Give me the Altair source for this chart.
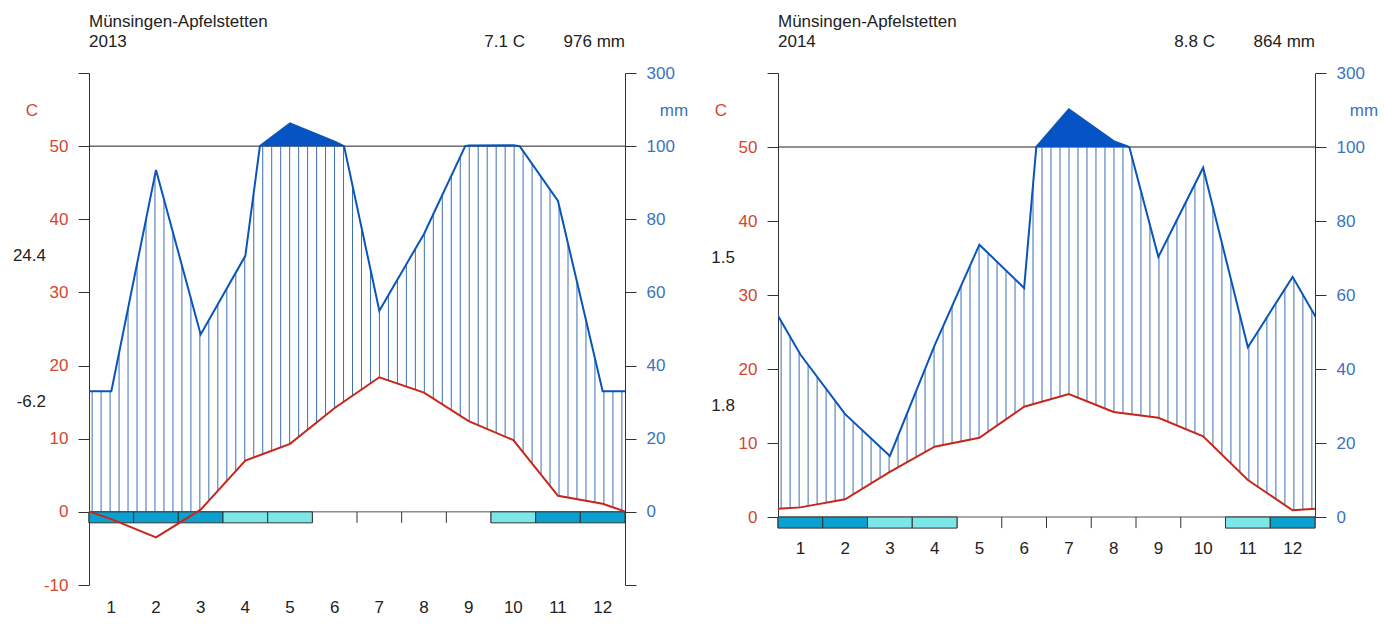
import altair as alt
import numpy as np
import pandas as pd

FONT = "Liberation Sans"
MONTHS = list(range(1, 13))
STATION = "Münsingen-Apfelstetten"

YEAR_2013 = "2013"
TEMP_2013 = [-1.0, -3.5, 0.3, 7.0, 9.3, 14.2, 18.4, 16.3, 12.4, 9.8, 2.2, 1.1]
PREC_2013 = [33, 93.5, 48.5, 70, 162, 112, 55, 76, 102, 102.5, 85, 33]
FROST_2013 = [2, 2, 2, 1, 1, 0, 0, 0, 0, 1, 2, 2]
MEAN_T_2013 = "7.1 C"
SUM_P_2013 = "976 mm"
EXTREMES_2013 = ["24.4", "-6.2"]

YEAR_2014 = "2014"
TEMP_2014 = [1.3, 2.4, 6.1, 9.5, 10.7, 14.9, 16.6, 14.2, 13.4, 10.9, 5.0, 0.9]
PREC_2014 = [43.9, 27.8, 16.5, 46.4, 73.6, 61.9, 202, 116, 70.3, 94.4, 45.9, 64.9]
FROST_2014 = [2, 2, 1, 1, 0, 0, 0, 0, 0, 0, 1, 2]
MEAN_T_2014 = "8.8 C"
SUM_P_2014 = "864 mm"
EXTREMES_2014 = ["1.5", "1.8"]

RED_LINE = "#c8261a"
RED_TXT = "#d4452f"
BLUE_LINE = "#0a55b8"
BLUE_TXT = "#3b73c2"
HATCH = "#3d6fb3"
FILL = "#0553c4"
DARK_BOX = "#0aa0d0"
LIGHT_BOX = "#7de6e6"
AXIS = "#333333"
TXT = "#222222"


def scale_p(p):
    p = np.asarray(p, dtype=float)
    return np.where(p <= 100, p / 2.0, 50 + (p - 100) / 20.0)


def panel(year, temp, prec, frost, mean_t, sum_p, extremes, ymin, height, label_y, width):
    dom = [ymin, 60]
    X = lambda f="x": alt.X(f"{f}:Q", scale=alt.Scale(domain=[0, 12], nice=False, zero=False), axis=None)
    Y = lambda f="y", axis=None: alt.Y(f"{f}:Q", scale=alt.Scale(domain=dom, nice=False, zero=False), axis=axis)

    xs = [-0.5] + [m - 0.5 for m in MONTHS] + [12.5]
    tv = [temp[-1]] + list(temp) + [temp[0]]
    pv = [prec[-1]] + list(prec) + [prec[0]]

    # precipitation path with the 100 mm crossings (scale changes there)
    px, pmm = [xs[0]], [pv[0]]
    for i in range(1, len(xs)):
        a, b = pv[i - 1], pv[i]
        if (a - 100) * (b - 100) < 0:
            f = (100 - a) / (b - a)
            px.append(xs[i - 1] + f * (xs[i] - xs[i - 1]))
            pmm.append(100.0)
        px.append(xs[i])
        pmm.append(b)
    ps = scale_p(pmm)

    df_t = pd.DataFrame({"x": xs, "y": tv})
    df_p = pd.DataFrame({"x": px, "y": ps})
    df_fill = pd.DataFrame({"x": px, "y": np.maximum(ps, 50), "y2": 50.0})

    hx = np.linspace(0.07, 11.93, 60)
    ht = np.interp(hx, xs, tv)
    hp = np.minimum(scale_p(np.interp(hx, px, pmm)), 50)
    lo = np.maximum(ht, 0)
    df_h = pd.DataFrame({"x": hx, "y": lo, "y2": hp})
    df_h = df_h[df_h.y2 > df_h.y]

    df_box = pd.DataFrame({"x": [m - 1 for m in MONTHS], "x2": MONTHS, "y": 0.0, "y2": -1.5, "k": frost})
    df_box = df_box[df_box.k > 0]
    df_tick = pd.DataFrame({"x": list(range(13)), "y": 0.0, "y2": -1.5})
    df_lab = pd.DataFrame({"x": [m - 0.5 for m in MONTHS], "y": label_y, "t": [str(m) for m in MONTHS]})

    ticks = list(range(int(ymin), 61, 10))
    left_axis = alt.Axis(
        orient="left", values=ticks, labelExpr="datum.value == 60 ? '' : '' + datum.value",
        tickSize=11, tickColor=AXIS, domainColor=AXIS, labelColor=RED_TXT, labelFontSize=17,
        labelFont=FONT, labelPadding=10, grid=False, title=None, labelFlush=False,
        labelOverlap=False, labelBound=False)
    right_axis = alt.Axis(
        orient="right", values=ticks,
        labelExpr="datum.value == 60 ? '300' : (datum.value < 0 ? '' : '' + (datum.value * 2))",
        tickSize=11, tickColor=AXIS, domainColor=AXIS, labelColor=BLUE_TXT, labelFontSize=17,
        labelFont=FONT, labelPadding=10, grid=False, title=None, labelFlush=False,
        labelOverlap=False, labelBound=False)

    hl = pd.DataFrame({"y": [0.0], "x": [0.0], "x2": [12.0]})
    hl50 = pd.DataFrame({"y": [50.0], "x": [0.0], "x2": [12.0]})

    zero_line = alt.Chart(hl).mark_rule(color="#555555", strokeWidth=1).encode(
        x=X(), x2="x2:Q", y=Y("y", left_axis))
    line50 = alt.Chart(hl50).mark_rule(color=TXT, strokeWidth=1).encode(
        x=X(), x2="x2:Q", y=Y("y", right_axis))
    hatch = alt.Chart(df_h).mark_rule(color=HATCH, strokeWidth=1).encode(
        x=X(), y=Y(), y2="y2:Q")
    fill = alt.Chart(df_fill).mark_area(color=FILL, clip=True, opacity=1).encode(
        x=X(), y=Y(), y2="y2:Q")
    pline = alt.Chart(df_p).mark_line(color=BLUE_LINE, strokeWidth=2, clip=True).encode(
        x=X(), y=Y(), order="x:Q")
    tline = alt.Chart(df_t).mark_line(color=RED_LINE, strokeWidth=2, clip=True).encode(
        x=X(), y=Y(), order="x:Q")
    tick_marks = alt.Chart(df_tick).mark_rule(color=AXIS, strokeWidth=1).encode(
        x=X(), y=Y(), y2="y2:Q")
    boxes = alt.Chart(df_box).mark_rect(stroke=AXIS, strokeWidth=1).encode(
        x=X(), x2="x2:Q", y=Y(), y2="y2:Q",
        fill=alt.Fill("k:O", scale=alt.Scale(domain=[1, 2], range=[LIGHT_BOX, DARK_BOX]), legend=None))
    mlabels = alt.Chart(df_lab).mark_text(fontSize=17, font=FONT, color=TXT, baseline="middle").encode(
        x=X(), y=Y(), text="t:N")

    def txt(s, x, y, align="left", color=TXT, baseline="alphabetic", ydatum=False):
        c = alt.Chart(pd.DataFrame({"t": [s]})).mark_text(
            align=align, baseline=baseline, fontSize=17, font=FONT, color=color)
        yy = Y("yv") if ydatum else alt.value(y)
        if ydatum:
            c = c.transform_calculate(yv=str(y))
        return c.encode(text="t:N", x=alt.value(x), y=yy)

    texts = [
        txt(STATION, 0, -46),
        txt(year, 0, -26),
        txt(mean_t, width - 100, -26, align="right"),
        txt(sum_p, width, -26, align="right"),
        txt("C", -57, 54.8, align="center", color=RED_TXT, baseline="middle", ydatum=True),
        txt("mm", width + 49, 54.8, align="center", color=BLUE_TXT, baseline="middle", ydatum=True),
        txt(extremes[0], -43, 35, align="right", baseline="middle", ydatum=True),
        txt(extremes[1], -43, 15, align="right", baseline="middle", ydatum=True),
    ]

    return alt.layer(
        zero_line, line50, hatch, fill, pline, tick_marks, boxes, tline, mlabels, *texts
    ).resolve_axis(y="independent").properties(width=width, height=height)


left = panel(YEAR_2013, TEMP_2013, PREC_2013, FROST_2013, MEAN_T_2013, SUM_P_2013,
             EXTREMES_2013, -10, 512, -13.2, 536)
right = panel(YEAR_2014, TEMP_2014, PREC_2014, FROST_2014, MEAN_T_2014, SUM_P_2014,
              EXTREMES_2014, 0, 444, -4.3, 537)

chart = alt.hconcat(left, right, spacing=22).properties(
    padding={"left": 12, "top": 13, "right": 0, "bottom": 0}
).configure_view(stroke=None)

chart.save("out.html", embed_options={"renderer": "svg", "actions": False})
